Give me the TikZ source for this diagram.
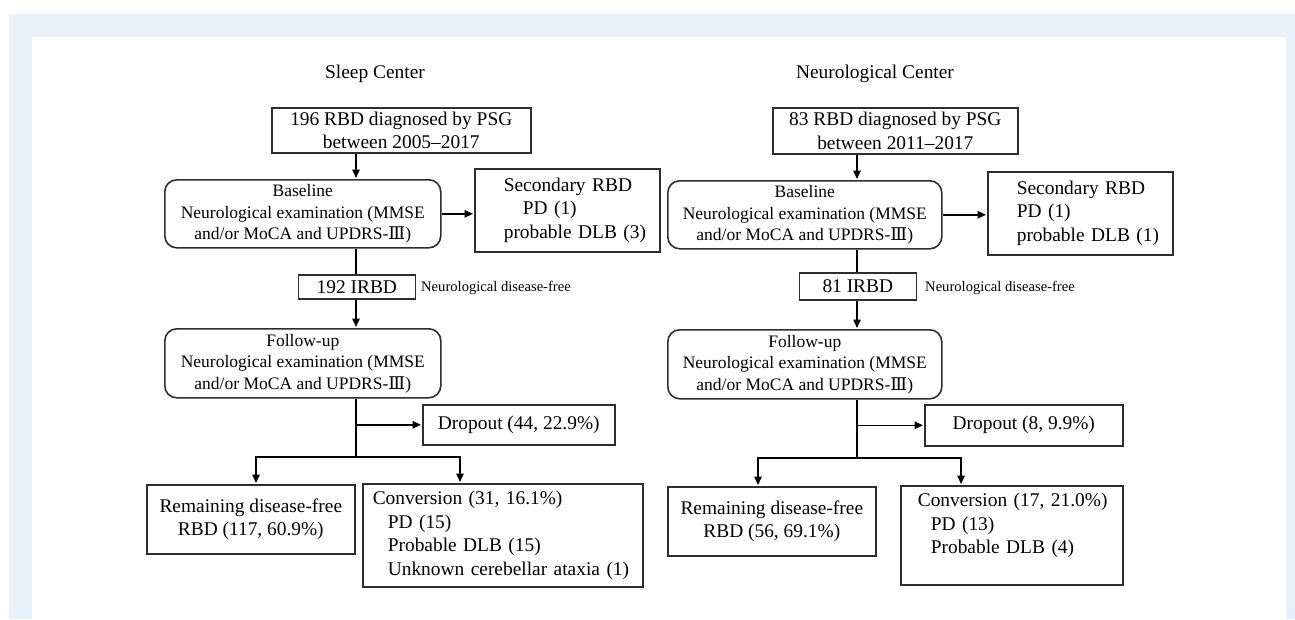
\documentclass[tikz,border=0pt]{standalone}
\usepackage{fontspec}
\setmainfont{Liberation Serif}
\newfontfamily\numfont{DejaVu Serif}
\usetikzlibrary{arrows.meta}
\definecolor{bgblue}{HTML}{E7F1FA}
\definecolor{boxline}{HTML}{2E2E2E}
\newcommand{\rmIII}{{\numfont Ⅲ}}
\tikzset{
  box/.style={draw=boxline, line width=1.6pt, inner sep=0pt, anchor=north west,
    font=\fontsize{19.4}{23.5}\selectfont},
  cbox/.style={box, align=center},
  lbox/.style={box, align=left},
  rbox/.style={box, rounded corners=12pt, align=center, font=\fontsize{17.5}{21.5}\selectfont},
  sz/.style 2 args={minimum width=#1pt, minimum height=#2pt},
  title/.style={inner sep=0pt, font=\fontsize{19.4}{23.5}\selectfont},
  note/.style={inner sep=0pt, anchor=west, font=\fontsize{14.6}{17}\selectfont},
  arr/.style={-{Triangle[length=8.5pt,width=7.5pt]}, line width=1.5pt, shorten >=1pt},
  ln/.style={line width=1.5pt}
}
\begin{document}
\begin{tikzpicture}[x=1pt,y=-1pt]
\useasboundingbox (0,0) rectangle (1295,619);
\fill[white] (0,0) rectangle (1295,619);
\fill[bgblue] (9,14) rectangle (1295,619);
\fill[white] (32,37) rectangle (1286,619);

% ---------------- Sleep Center ----------------
\node[title] (tL) at (375,74) {Sleep Center};
\node[cbox, sz={259}{45}] (b1L) at (271,107) {196 RBD diagnosed by PSG\\between 2005–2017};
\node[rbox, sz={276}{68}] (baseL) at (164,179) {Baseline\\Neurological examination (MMSE\\and/or MoCA and UPDRS-\rmIII)};
\node[lbox, sz={185}{83}, text width=185pt] (secL) at (474,168)
  {\hspace*{29pt}Secondary RBD\\\hspace*{48pt}PD (1)\\\hspace*{29pt}probable DLB (3)};
\node[cbox, sz={117}{24}] (irL) at (297.5,274) {192 IRBD};
\node[note] (nL) at (421,288) {Neurological disease-free};
\node[rbox, sz={276}{69}] (fuL) at (164,328) {Follow-up\\Neurological examination (MMSE\\and/or MoCA and UPDRS-\rmIII)};
\node[cbox, sz={192}{40}] (dropL) at (422,404) {Dropout (44, 22.9\%)};
\node[cbox, sz={208}{69}] (remL) at (146,484) {Remaining disease-free\\RBD (117, 60.9\%)};
\node[lbox, sz={280}{103}, text width=280pt] (convL) at (362,483)
  {\hspace*{10pt}Conversion (31, 16.1\%)\\\hspace*{25pt}PD (15)\\\hspace*{25pt}Probable DLB (15)\\\hspace*{25pt}Unknown cerebellar ataxia (1)};

\coordinate (sL) at (356,0);
\coordinate (jL) at (356,457);
\coordinate (aL1) at (256,0);
\coordinate (aL2) at (460,0);
\draw[arr] (b1L.south -| sL) -- (baseL.north -| sL);
\draw[arr] (baseL.east) -- (baseL.east -| secL.west);
\draw[ln] (baseL.south -| sL) -- (irL.north -| sL);
\draw[arr] (irL.south -| sL) -- (fuL.north -| sL);
\draw[ln] (fuL.south -| sL) -- (jL);
\draw[arr] (dropL.west -| sL) -- (dropL.west);
\draw[arr] (jL) -| (remL.north -| aL1);
\draw[arr] (jL) -| (convL.north -| aL2);

% ---------------- Neurological Center ----------------
\node[title] (tR) at (875,74) {Neurological Center};
\node[cbox, sz={245}{46}] (b1R) at (772,107) {83 RBD diagnosed by PSG\\between 2011–2017};
\node[rbox, sz={274}{68}] (baseR) at (667,180) {Baseline\\Neurological examination (MMSE\\and/or MoCA and UPDRS-\rmIII)};
\node[lbox, sz={185}{83}, text width=185pt] (secR) at (987,171)
  {\hspace*{29pt}Secondary RBD\\\hspace*{29pt}PD (1)\\\hspace*{29pt}probable DLB (1)};
\node[cbox, sz={117}{27}] (irR) at (798.5,272) {81 IRBD};
\node[note] (nR) at (925,288) {Neurological disease-free};
\node[rbox, sz={274}{69}] (fuR) at (667,329) {Follow-up\\Neurological examination (MMSE\\and/or MoCA and UPDRS-\rmIII)};
\node[cbox, sz={198}{41}] (dropR) at (924,404) {Dropout (8, 9.9\%)};
\node[cbox, sz={208}{69}] (remR) at (667,486) {Remaining disease-free\\RBD (56, 69.1\%)};
\node[lbox, sz={222}{99}, text width=222pt] (convR) at (900,485)
  {\hspace*{17pt}Conversion (17, 21.0\%)\\\hspace*{30pt}PD (13)\\\hspace*{30pt}Probable DLB (4)\\\mbox{}};

\coordinate (sR) at (857,0);
\coordinate (jR) at (857,458);
\coordinate (aR1) at (758,0);
\coordinate (aR2) at (961,0);
\draw[arr] (b1R.south -| sR) -- (baseR.north -| sR);
\draw[arr] (baseR.east) -- (baseR.east -| secR.west);
\draw[ln] (baseR.south -| sR) -- (irR.north -| sR);
\draw[arr] (irR.south -| sR) -- (fuR.north -| sR);
\draw[ln] (fuR.south -| sR) -- (jR);
\draw[arr] (dropR.west -| sR) -- (dropR.west);
\draw[arr] (jR) -| (remR.north -| aR1);
\draw[arr] (jR) -| (convR.north -| aR2);
\end{tikzpicture}
\end{document}
